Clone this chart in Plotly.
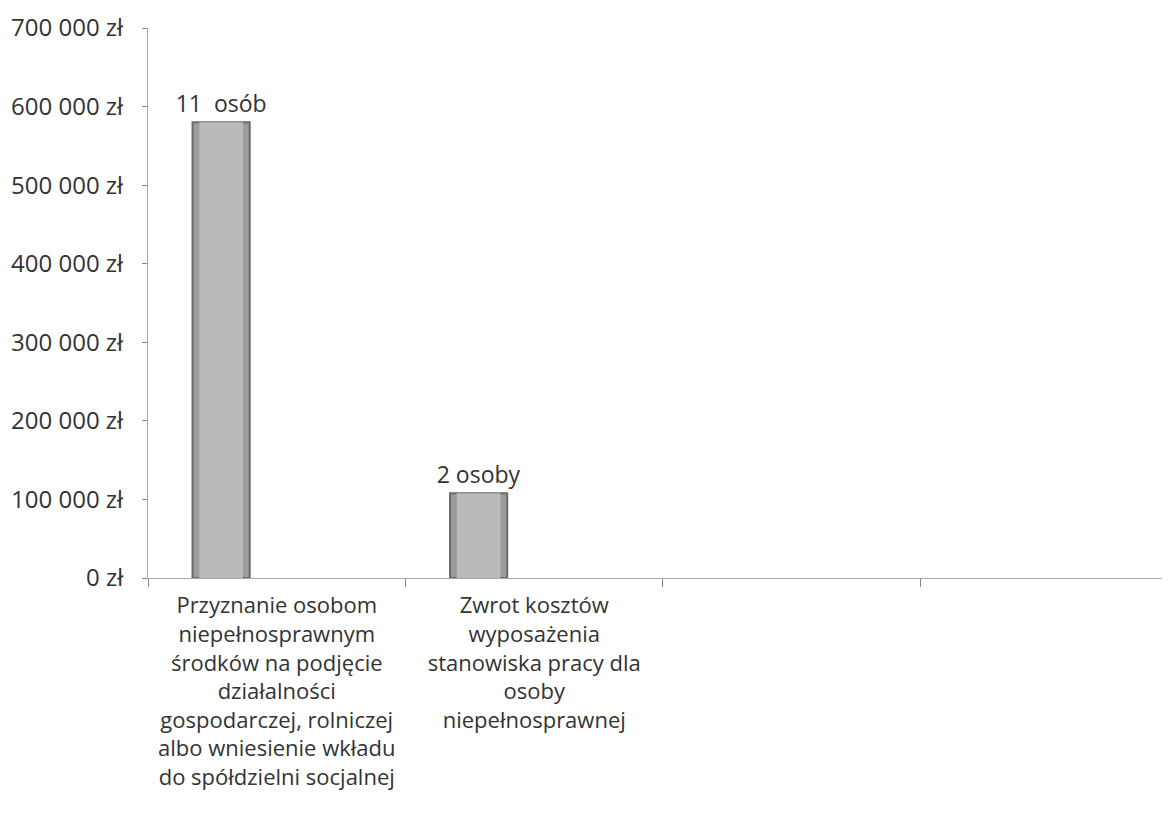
import plotly.graph_objects as go

categories = [
    "Przyznanie osobom<br>niepełnosprawnym<br>środków na podjęcie<br>działalności<br>gospodarczej, rolniczej<br>albo wniesienie wkładu<br>do spółdzielni socjalnej",
    "Zwrot kosztów<br>wyposażenia<br>stanowiska pracy dla<br>osoby<br>niepełnosprawnej",
    "\u00a0",
    "\u00a0\u00a0",
]
values = [580000, 108000, None, None]
bar_labels = ["11\u00a0 osób", "2 osoby", "", ""]
y_ticks = [0, 100000, 200000, 300000, 400000, 500000, 600000, 700000]
y_tick_labels = ["0 zł", "100 000 zł", "200 000 zł", "300 000 zł", "400 000 zł",
                 "500 000 zł", "600 000 zł", "700 000 zł"]

FONT = "Open Sans"
TXT = "#333333"
fig = go.Figure()
fig.add_trace(go.Bar(
    x=categories, y=values,
    width=0.222, offset=-0.327,
    marker=dict(color="#9c9c9c", line=dict(color="#6a6a6a", width=2)),
    text=bar_labels, textposition="outside", cliponaxis=False,
    constraintext="none",
    textfont=dict(family=FONT, size=23, color=TXT),
    hoverinfo="skip",
))
fig.add_trace(go.Bar(
    x=categories, y=values,
    width=0.17, offset=-0.301,
    marker=dict(color="#bababa", line=dict(width=0)),
    hoverinfo="skip",
))

fig.update_layout(
    width=1154, height=803,
    margin=dict(l=140, r=0, t=20, b=233),
    paper_bgcolor="white", plot_bgcolor="white",
    barmode="overlay", showlegend=False,
    font=dict(family=FONT, size=22, color=TXT),
    xaxis=dict(
        type="category", categoryorder="array", categoryarray=categories,
        range=[-0.5, 3.438], showgrid=False, zeroline=False,
        showline=True, linecolor="#a8a8a8", linewidth=1,
        ticks="outside", tickson="boundaries", ticklen=8, tickcolor="#888888",
        ticklabelstandoff=8,
        tickfont=dict(family=FONT, size=22, color=TXT),
        fixedrange=True,
    ),
    yaxis=dict(
        range=[0, 700000], tickvals=y_ticks, ticktext=y_tick_labels,
        showgrid=False, zeroline=False,
        showline=True, linecolor="#a8a8a8", linewidth=1,
        ticks="outside", ticklen=5, tickcolor="#888888",
        ticklabelstandoff=14,
        tickfont=dict(family=FONT, size=24, color=TXT),
        fixedrange=True,
    ),
)

fig.write_html("out.html")
